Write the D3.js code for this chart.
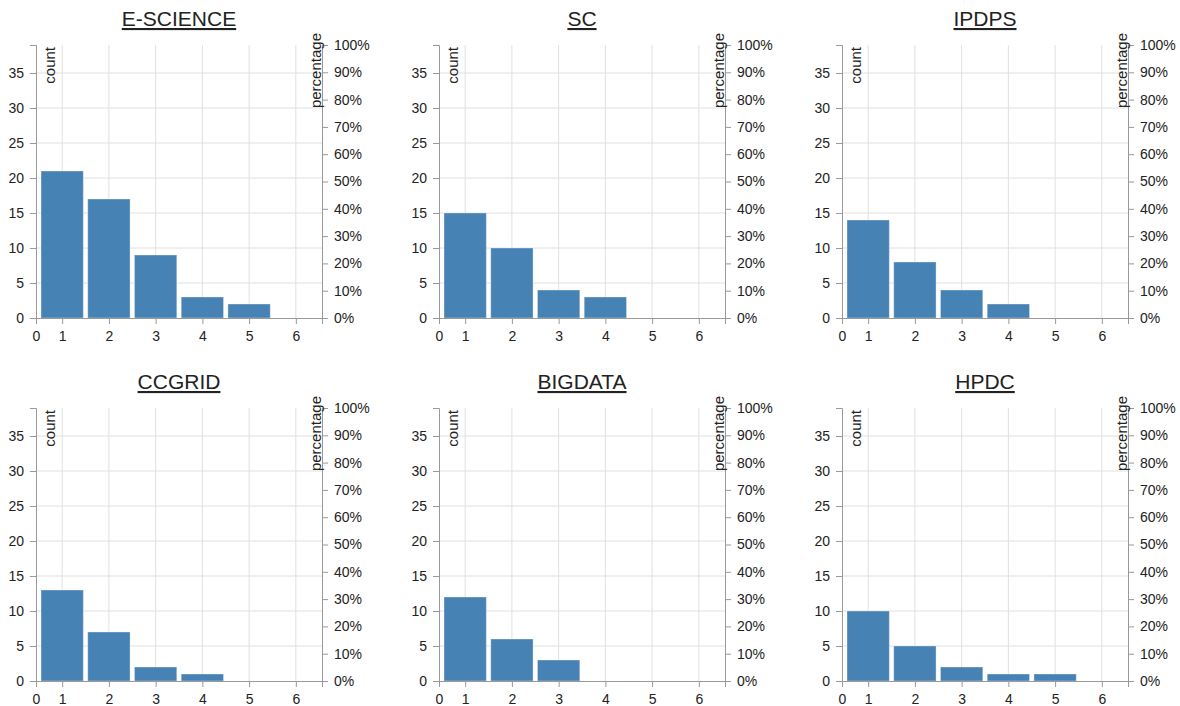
<!DOCTYPE html>
<html>
<head>
<meta charset="utf-8">
<script src="https://cdn.jsdelivr.net/npm/d3@7"></script>
<style>
  html, body { margin: 0; padding: 0; background: #fff; }
  svg { display: block; font-family: "Liberation Sans", Arial, sans-serif; }
</style>
</head>
<body>
<svg id="chart" width="1180" height="706"></svg>
<script>
// ---- data ----
const venues = ["E-SCIENCE", "SC", "IPDPS", "CCGRID", "BIGDATA", "HPDC"];
const binValues = [1, 2, 3, 4, 5];
const countsEScience = [21, 17, 9, 3, 2];
const countsSC = [15, 10, 4, 3, 0];
const countsIPDPS = [14, 8, 4, 2, 0];
const countsCCGRID = [13, 7, 2, 1, 0];
const countsBIGDATA = [12, 6, 3, 0, 0];
const countsHPDC = [10, 5, 2, 1, 1];
const seriesCounts = [countsEScience, countsSC, countsIPDPS, countsCCGRID, countsBIGDATA, countsHPDC];

const xDomain = [0.44, 6.56];
const xTickValues = [1, 2, 3, 4, 5, 6];
const xTickLabels = ["0", "1", "2", "3", "4", "5", "6"];
const countDomain = [0, 39];
const countTicks = [0, 5, 10, 15, 20, 25, 30, 35];
const pctTicks = [0, 0.1, 0.2, 0.3, 0.4, 0.5, 0.6, 0.7, 0.8, 0.9, 1.0];

// ---- layout ----
const W = 286, H = 273;
const colStep = 403, rowStep = 363;
const left0 = 36, top0 = 45;
const axisColor = "#999";
const gridColor = "#e0e0e0";
const textColor = "#222";

const svg = d3.select("#chart");

venues.forEach((name, i) => {
  const col = i % 3, row = Math.floor(i / 3);
  const g = svg.append("g")
    .attr("transform", `translate(${left0 + col * colStep},${top0 + row * rowStep})`);

  const x = d3.scaleLinear().domain(xDomain).range([0, W]);
  const y = d3.scaleLinear().domain(countDomain).range([H, 0]);
  const yp = d3.scaleLinear().domain([0, 1]).range([H, 0]);

  // grid
  g.append("g").selectAll("line.v").data(xTickValues).join("line")
    .attr("x1", d => x(d)).attr("x2", d => x(d))
    .attr("y1", 0).attr("y2", H)
    .attr("stroke", gridColor).attr("stroke-width", 1);
  g.append("g").selectAll("line.h").data(countTicks.filter(d => d > 0)).join("line")
    .attr("x1", 0).attr("x2", W)
    .attr("y1", d => y(d)).attr("y2", d => y(d))
    .attr("stroke", gridColor).attr("stroke-width", 1);

  // bars
  const data = binValues.map((b, k) => ({ b, c: seriesCounts[i][k] })).filter(d => d.c > 0);
  const unit = x(2) - x(1);
  const bw = unit - 4.4;
  g.append("g").selectAll("rect").data(data).join("rect")
    .attr("x", d => x(d.b) - bw / 2)
    .attr("width", bw)
    .attr("y", d => y(d.c))
    .attr("height", d => H - y(d.c))
    .attr("fill", "steelblue")
    .attr("stroke", "#fff")
    .attr("stroke-opacity", 0.35)
    .attr("stroke-width", 1);

  // axes
  const styleAxis = sel => {
    sel.selectAll("path.domain").attr("stroke", axisColor);
    sel.selectAll(".tick line").attr("stroke", axisColor);
    sel.selectAll(".tick text").attr("fill", textColor).style("font-size", "14px");
    sel.attr("font-family", null);
  };

  const xVals = [xDomain[0]].concat(xTickValues);
  g.append("g").attr("transform", `translate(0,${H})`)
    .call(d3.axisBottom(x).tickValues(xVals).tickPadding(7)
      .tickFormat((d, k) => xTickLabels[k]))
    .call(styleAxis);

  g.append("g")
    .call(d3.axisLeft(y).tickValues(countTicks).tickPadding(6))
    .call(styleAxis);

  g.append("g").attr("transform", `translate(${W},0)`)
    .call(d3.axisRight(yp).tickValues(pctTicks).tickPadding(6).tickFormat(d3.format(".0%")))
    .call(styleAxis);

  // axis labels
  g.append("text")
    .attr("transform", "rotate(-90)")
    .attr("x", -2).attr("y", 19)
    .attr("text-anchor", "end")
    .attr("fill", textColor)
    .style("font-size", "15px")
    .text("count");

  g.append("text")
    .attr("transform", "rotate(-90)")
    .attr("x", 12).attr("y", W - 1.5)
    .attr("text-anchor", "end")
    .attr("fill", textColor)
    .style("font-size", "15px")
    .text("percentage");

  // title
  g.append("text")
    .attr("x", W / 2).attr("y", -19)
    .attr("text-anchor", "middle")
    .attr("fill", "#222")
    .style("font-size", "21px")
    .style("text-decoration", "underline")
    .text(name);
});
</script>
</body>
</html>
